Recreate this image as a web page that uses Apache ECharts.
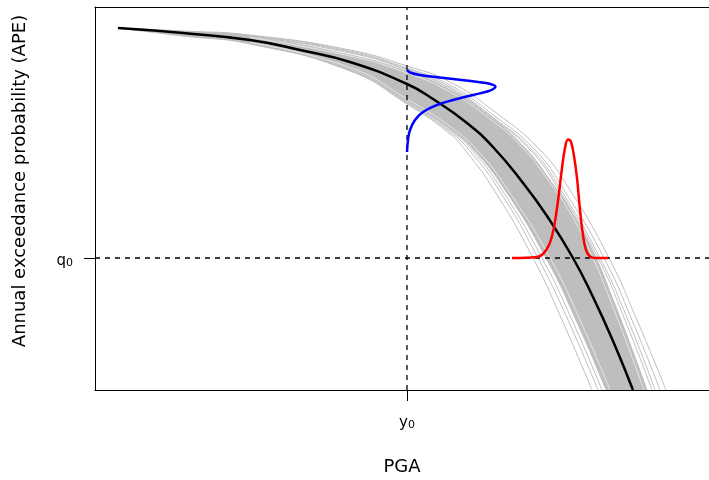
<!DOCTYPE html>
<html>
<head>
<meta charset="utf-8">
<script src="https://cdn.jsdelivr.net/npm/echarts@6/dist/echarts.min.js"></script>
<style>
  html, body { margin: 0; padding: 0; background: #fff; }
  #chart { width: 709px; height: 480px; }
</style>
</head>
<body>
<div id="chart"></div>
<script>
// Axis extents and the two reference values (arbitrary units)
const X_MAX = 6.14;
const Y_MAX = 3.83;
const Y0 = 3.12;   // reference PGA level
const Q0 = 1.32;   // reference exceedance probability

// Mean hazard curve
const meanCurve = [[0.23,3.62],[0.88,3.57],[1.55,3.50],[2.05,3.40],[2.55,3.28],[3.12,3.06],[3.38,2.91],[3.72,2.67],[3.98,2.43],[4.28,2.07],[4.52,1.74],[4.78,1.32],[4.98,0.93],[5.18,0.49],[5.38,0.00]];

// Edges of the dense bundle of simulated curves
const bundleUpper = [[0.23,3.62],[0.88,3.58],[1.55,3.53],[2.55,3.35],[3.12,3.185],[3.55,3.00],[3.95,2.73],[4.29,2.43],[4.57,2.07],[4.79,1.74],[5.01,1.32],[5.17,0.93],[5.34,0.49],[5.52,0]];
const bundleLower = [[0.22,3.62],[0.88,3.55],[1.55,3.47],[2.55,3.21],[3.12,2.89],[3.55,2.61],[3.79,2.40],[4.10,2.00],[4.51,1.32],[4.81,0.70],[5.11,0]];

// Individual simulated curves lying outside the dense bundle
const simUpper1 = [[0.23,3.62],[0.88,3.59],[1.55,3.55],[2.55,3.40],[3.12,3.24],[3.55,3.08],[4.00,2.78],[4.45,2.40],[4.75,2.00],[5.14,1.32],[5.42,0.70],[5.71,0]];
const simUpper2 = [[0.23,3.62],[0.88,3.585],[1.55,3.545],[2.55,3.39],[3.12,3.22],[3.55,3.05],[3.97,2.76],[4.40,2.40],[4.69,2.00],[5.09,1.32],[5.37,0.70],[5.65,0]];
const simUpper3 = [[0.23,3.62],[0.88,3.58],[1.55,3.54],[2.55,3.38],[3.12,3.21],[3.55,3.03],[3.95,2.75],[4.37,2.40],[4.66,2.00],[5.05,1.32],[5.33,0.70],[5.60,0]];
const simUpper4 = [[0.23,3.62],[0.88,3.58],[1.55,3.535],[2.55,3.37],[3.12,3.20],[3.55,3.015],[3.95,2.74],[4.35,2.40],[4.64,2.00],[5.03,1.32],[5.30,0.70],[5.57,0]];
const simLower1 = [[0.23,3.62],[0.88,3.54],[1.55,3.46],[2.55,3.19],[3.12,2.86],[3.55,2.56],[3.70,2.40],[3.99,2.00],[4.38,1.32],[4.67,0.70],[4.97,0]];
const simLower2 = [[0.23,3.62],[0.88,3.545],[1.55,3.465],[2.55,3.195],[3.12,2.87],[3.55,2.58],[3.74,2.40],[4.04,2.00],[4.43,1.32],[4.73,0.70],[5.03,0]];
const simLower3 = [[0.23,3.62],[0.88,3.55],[1.55,3.47],[2.55,3.20],[3.12,2.88],[3.55,2.595],[3.77,2.40],[4.07,2.00],[4.47,1.32],[4.77,0.70],[5.07,0]];

// Thin gaps between neighbouring curves inside the bundle
const gapUpper = [[1.55,3.525],[2.55,3.34],[3.12,3.17],[3.55,2.98],[3.95,2.71],[4.27,2.43],[4.55,2.07],[4.77,1.74],[4.98,1.32],[5.14,0.93],[5.31,0.49],[5.49,0]];
const gapLower = [[1.55,3.475],[2.55,3.225],[3.12,2.91],[3.55,2.635],[3.82,2.40],[4.13,2.00],[4.55,1.32],[4.85,0.70],[5.15,0]];

// Distribution of the exceedance probability at PGA = y0 (drawn sideways)
const apeDensity = [[3.12,3.20],[3.15,3.175],[3.25,3.15],[3.45,3.125],[3.71,3.095],[3.91,3.07],[3.98,3.052],[4.005,3.035],[3.99,3.015],[3.94,2.99],[3.78,2.95],[3.58,2.90],[3.42,2.85],[3.28,2.78],[3.20,2.70],[3.15,2.60],[3.13,2.50],[3.12,2.38]];

// Distribution of the PGA at probability q0
const pgaDensity = [[4.17,1.32],[4.42,1.33],[4.48,1.36],[4.54,1.45],[4.58,1.58],[4.61,1.75],[4.64,1.97],[4.67,2.22],[4.70,2.42],[4.73,2.505],[4.76,2.48],[4.79,2.34],[4.82,2.12],[4.85,1.80],[4.88,1.55],[4.91,1.40],[4.95,1.335],[5.01,1.32],[5.13,1.32]];

// Dashed guides
const guideY0 = [[Y0, 0], [Y0, Y_MAX]];
const guideQ0 = [[0, Q0], [X_MAX, Q0]];

const FONT = '"DejaVu Sans", "Liberation Sans", Arial, sans-serif';
const GRAY = '#bebebe';

function curve(name, data, color, width, z, extra) {
  return Object.assign({
    name: name,
    type: 'line',
    data: data,
    z: z,
    smooth: 0.5,
    showSymbol: false,
    symbol: 'none',
    silent: true,
    lineStyle: { color: color, width: width },
    emphasis: { disabled: true }
  }, extra || {});
}

const simCurves = [simUpper1, simUpper2, simUpper3, simUpper4, simLower1, simLower2, simLower3];

const series = [
  curve('bundleUpper', bundleUpper, GRAY, 1, 2, { areaStyle: { color: GRAY, opacity: 1 } }),
  curve('bundleLower', bundleLower, GRAY, 1, 3, { areaStyle: { color: '#ffffff', opacity: 1 } })
];
simCurves.forEach((c, i) => series.push(curve('sim' + i, c, GRAY, 1, 4)));
series.push(curve('gapUpper', gapUpper, '#ffffff', 0.8, 4, { lineStyle: { color: '#ffffff', width: 0.8, opacity: 0.8 } }));
series.push(curve('gapLower', gapLower, '#ffffff', 0.8, 4, { lineStyle: { color: '#ffffff', width: 0.8, opacity: 0.8 } }));
series.push(curve('guideY0', guideY0, '#000', 1, 5, { smooth: false, lineStyle: { color: '#000', width: 1.3, type: [5, 5] } }));
series.push(curve('guideQ0', guideQ0, '#000', 1, 5, { smooth: false, lineStyle: { color: '#000', width: 1.3, type: [5, 5] } }));
series.push(curve('mean', meanCurve, '#000', 2.5, 6));
series.push(curve('apeDensity', apeDensity, '#0000ff', 2.5, 7, { smooth: 0.4 }));
series.push(curve('pgaDensity', pgaDensity, '#ff0000', 2.5, 7, { smooth: 0.4 }));

const subLabel = (base) => ({
  show: true,
  formatter: () => '{v|' + base + '}{s|0}',
  rich: {
    v: { fontSize: 15, color: '#000', fontFamily: FONT },
    s: { fontSize: 11, color: '#000', fontFamily: FONT, verticalAlign: 'bottom' }
  }
});

const chart = echarts.init(document.getElementById('chart'), null, { renderer: 'canvas' });
chart.setOption({
  animation: false,
  backgroundColor: '#ffffff',
  textStyle: { fontFamily: FONT },
  grid: { left: 95, top: 7, width: 614, height: 383, show: false, containLabel: false, outerBoundsMode: 'none' },
  xAxis: [{
    type: 'value', min: 0, max: X_MAX, z: 10, position: 'bottom',
    splitLine: { show: false },
    axisLine: { show: true, onZero: false, lineStyle: { color: '#000', width: 1 } },
    axisTick: { show: true, customValues: [Y0], length: 11, lineStyle: { color: '#000', width: 1 } },
    axisLabel: Object.assign(subLabel('y'), { customValues: [Y0], margin: 26 }),
    name: 'PGA', nameLocation: 'middle', nameGap: 68,
    nameTextStyle: { fontSize: 18, color: '#000', fontFamily: FONT }
  }, {
    type: 'value', min: 0, max: X_MAX, z: 10, position: 'top',
    splitLine: { show: false },
    axisLine: { show: true, onZero: false, lineStyle: { color: '#000', width: 1 } },
    axisTick: { show: false },
    axisLabel: { show: false }
  }],
  yAxis: {
    type: 'value', min: 0, max: Y_MAX, z: 10,
    splitLine: { show: false },
    axisLine: { show: true, onZero: false, lineStyle: { color: '#000', width: 1 } },
    axisTick: { show: true, customValues: [Q0], length: 11, lineStyle: { color: '#000', width: 1 } },
    axisLabel: Object.assign(subLabel('q'), { customValues: [Q0], margin: 22, padding: [6, 0, 0, 0] })
  },
  graphic: [{
    type: 'text',
    x: 20, y: 181,
    rotation: Math.PI / 2,
    silent: true,
    style: {
      text: 'Annual exceedance probability (APE)',
      font: '18px ' + FONT,
      fill: '#000',
      align: 'center',
      verticalAlign: 'middle'
    }
  }],
  series: series
});
</script>
</body>
</html>
